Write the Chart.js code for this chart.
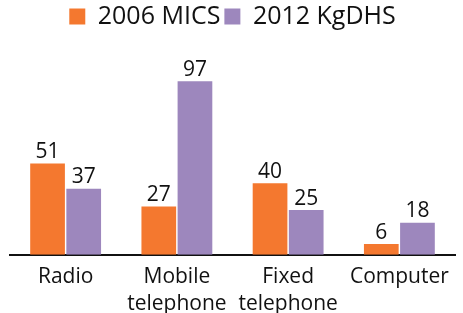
<!DOCTYPE html>
<html>
<head>
<meta charset="utf-8">
<script src="https://cdn.jsdelivr.net/npm/chart.js@4"></script>
<style>
  html, body { margin: 0; padding: 0; background: #fff; }
  #wrap { width: 463px; height: 313px; }
</style>
</head>
<body>
<div id="wrap"><canvas id="myChart"></canvas></div>
<script>
// Data
const categories = [['Radio'], ['Mobile', 'telephone'], ['Fixed', 'telephone'], ['Computer']];
const seriesNames = ['2006 MICS', '2012 KgDHS'];
const mics2006 = [51, 27, 40, 6];
const kgdhs2012 = [37, 97, 25, 18];

const FONT = "'Open Sans', sans-serif";

// Draw the value above each bar
const valueLabels = {
    id: 'valueLabels',
    afterDatasetsDraw(chart) {
        const ctx = chart.ctx;
        ctx.save();
        ctx.font = "21px " + FONT;
        ctx.fillStyle = '#111';
        ctx.textAlign = 'center';
        ctx.textBaseline = 'bottom';
        chart.data.datasets.forEach((ds, i) => {
            chart.getDatasetMeta(i).data.forEach((bar, j) => {
                ctx.fillText(ds.data[j], bar.x, bar.y - 1);
            });
        });
        ctx.restore();
    }
};

// Push the plot area down below the legend
const legendSpacer = {
    id: 'legendSpacer',
    beforeInit(chart) {
        const fit = chart.legend.fit;
        chart.legend.fit = function () {
            fit.bind(chart.legend)();
            this.height += 37;
        };
    }
};

const ctx = document.getElementById('myChart').getContext('2d');
const myChart = new Chart(ctx, {
    type: 'bar',
    data: {
        labels: categories,
        datasets: [{
            label: seriesNames[0],
            data: mics2006,
            backgroundColor: '#f4782f',
            categoryPercentage: 0.65,
            barPercentage: 0.96
        }, {
            label: seriesNames[1],
            data: kgdhs2012,
            backgroundColor: '#9d87bd',
            categoryPercentage: 0.65,
            barPercentage: 0.96
        }]
    },
    options: {
        responsive: true,
        maintainAspectRatio: false,
        animation: false,
        layout: { padding: { left: 10, right: 8, top: 0, bottom: -6 } },
        plugins: {
            legend: {
                labels: {
                    boxWidth: 16,
                    boxHeight: 16,
                    color: '#111',
                    padding: 4,
                    font: { family: FONT, size: 25 }
                }
            },
            tooltip: { enabled: false }
        },
        scales: {
            x: {
                grid: { display: false },
                border: { display: true, color: '#111', width: 2 },
                ticks: {
                    color: '#111',
                    padding: 1,
                    font: { family: FONT, size: 21, lineHeight: 1.29 }
                }
            },
            y: {
                display: false,
                min: 0,
                max: 100
            }
        }
    },
    plugins: [valueLabels, legendSpacer]
});
</script>
</body>
</html>
